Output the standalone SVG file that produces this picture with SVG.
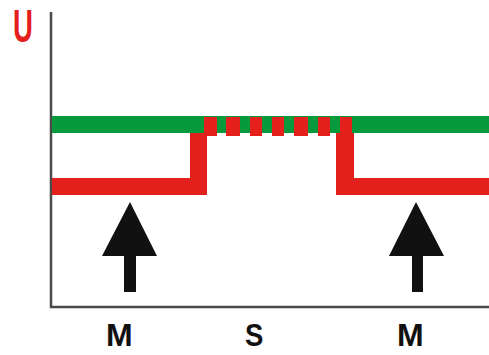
<svg xmlns="http://www.w3.org/2000/svg" width="489" height="355" viewBox="0 0 489 355">
<style>
.red{fill:#e3201b}
.green{fill:#07993b}
.arrow{fill:#111}
.lbl{font-family:"Liberation Sans",Arial,sans-serif;font-size:32px;font-weight:bold;fill:#111}
.axis{stroke:#4a4a4a;stroke-width:2.5;fill:none}
</style>
<rect width="489" height="355" fill="#fff"/>
<g id="axes">
<path class="axis" d="M51,12 V307 H489"/>
</g>
<g id="u-label">
<text transform="translate(13,42) scale(0.6,1)" style="font-family:'Liberation Sans',Arial,sans-serif;font-size:46px;font-weight:bold;fill:#e3201b">U</text>
</g>
<g id="green-level">
<rect class="green" x="52" y="116" width="437" height="17"/>
</g>
<g id="red-signal">
<rect class="red" x="52" y="178" width="155" height="17"/>
<rect class="red" x="190" y="133" width="17" height="62"/>
<rect class="red" x="336" y="133" width="18" height="62"/>
<rect class="red" x="336" y="178" width="153" height="17"/>
<rect class="red" x="204" y="117" width="13" height="19"/>
<rect class="red" x="226" y="117" width="14" height="19"/>
<rect class="red" x="250" y="117" width="12" height="19"/>
<rect class="red" x="272" y="117" width="12" height="19"/>
<rect class="red" x="294" y="117" width="14" height="19"/>
<rect class="red" x="318" y="117" width="12" height="19"/>
<rect class="red" x="340" y="117" width="12" height="19"/>
</g>
<g id="arrow-left">
<polygon class="arrow" points="130,202 157,256 136,256 136,292 124,292 124,256 102,256"/>
</g>
<g id="arrow-right">
<polygon class="arrow" points="416,202 444,256 423,256 423,292 412,292 412,256 389,256"/>
</g>
<g id="label-m1"><text class="lbl" transform="translate(106,346)">M</text></g>
<g id="label-s"><text class="lbl" transform="translate(245,346) scale(0.86,1)">S</text></g>
<g id="label-m2"><text class="lbl" transform="translate(397,346)">M</text></g>
</svg>
